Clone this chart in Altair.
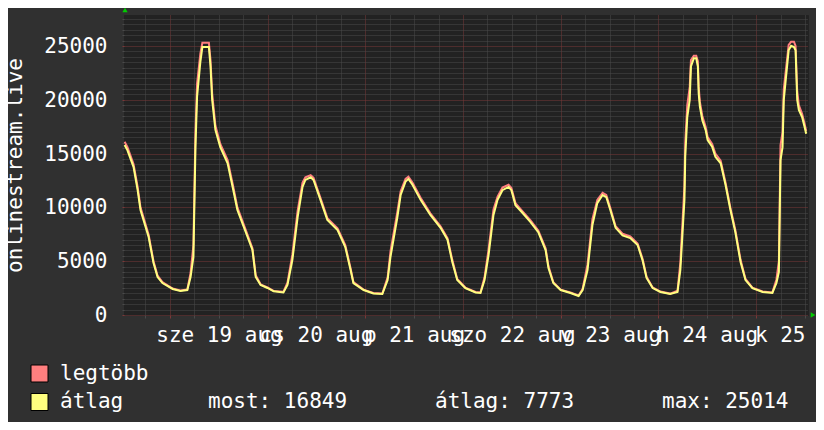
import json
import altair as alt
import pandas as pd

# ---------------- data ----------------
series_names = ["legtöbb", "átlag"]
series_colors = ["#ff7f7f", "#ffff7f"]

# hours since 18 aug 00:00
hours = [12.9, 13.6, 15.1, 16.1, 16.8, 18.8, 20.0, 21.0, 22.2, 24.7, 26.6, 28.3,
         29.1, 29.8, 30.3, 30.7, 31.5, 32.0, 33.6, 34.0, 34.4, 35.2, 36.4, 38.2,
         39.6, 40.6, 43.1, 44.3, 45.1, 46.3, 48.0, 49.5, 51.9, 52.9, 54.1, 55.4,
         56.6, 57.3, 58.6, 59.3, 61.0, 62.7, 65.2, 67.1, 68.4, 69.1, 71.6, 74.0,
         76.2, 77.5, 78.2, 79.9, 80.7, 81.9, 82.6, 83.6, 85.6, 88.0, 90.5, 92.2,
         93.4, 94.6, 96.6, 99.1, 100.3, 101.3, 102.3, 103.5, 104.5, 105.7, 107.2, 107.9,
         108.9, 110.6, 112.6, 114.5, 116.3, 117.0, 118.2, 120.0, 122.4, 124.4, 125.4, 126.6,
         127.8, 129.0, 130.3, 131.2, 132.2, 133.5, 135.2, 137.1, 138.9, 140.1, 141.1, 142.6,
         144.5, 146.9, 148.7, 149.4, 150.4, 150.6, 151.1, 151.7, 152.0, 152.7, 153.3, 153.7,
         153.9, 154.2, 154.8, 155.6, 156.1, 157.2, 158.0, 159.3, 160.5, 161.7, 162.9, 164.2,
         165.4, 167.1, 169.6, 172.0, 173.0, 173.6, 174.0, 174.5, 174.8, 176.0, 176.6, 177.3,
         177.7, 178.1, 178.5, 179.3, 179.9, 180.3]

avg_values = [15800, 15300, 13750, 11600, 9760, 7250, 4830, 3530, 2970, 2420, 2230, 2320,
              3530, 5390, 15600, 20300, 23500, 24900, 24900, 23100, 20000, 17200, 15600, 14100,
              11600, 9760, 7250, 6040, 3530, 2790, 2510, 2200, 2100, 2790, 5100, 9100,
              11900, 12550, 12800, 12550, 10700, 8830, 7900, 6320, 4180, 2970, 2320, 2000,
              1950, 3250, 5390, 9100, 11150, 12400, 12640, 12100, 10700, 9300, 8100, 7000,
              4900, 3250, 2500, 2100, 2050, 3250, 5580, 9300, 10700, 11600, 11900, 11600,
              10200, 9500, 8640, 7700, 6040, 4370, 2970, 2320, 2050, 1770, 2320, 4180,
              8360, 10400, 11150, 10960, 9760, 8100, 7400, 7150, 6500, 5100, 3440, 2500,
              2140, 1950, 2140, 4180, 10700, 14700, 18400, 20000, 23100, 23850, 23850, 23100,
              20600, 19350, 18100, 17200, 16260, 15640, 14700, 14100, 12080, 9760, 7700, 4900,
              3250, 2500, 2140, 2050, 2970, 4000, 14400, 15600, 20000, 24600, 25014, 24900,
              24600, 20000, 19050, 18400, 17500, 16849]

max_values = [16100, 15600, 14000, 11900, 10000, 7450, 5000, 3650, 3050, 2460, 2270, 2380,
              3900, 6500, 17000, 21500, 24300, 25300, 25300, 23700, 20600, 17600, 15900, 14400,
              11900, 10000, 7450, 6200, 3700, 2850, 2560, 2240, 2150, 3000, 5600, 9700,
              12300, 12800, 13000, 12750, 10900, 9000, 8050, 6500, 4350, 3050, 2360, 2040,
              2000, 3500, 5900, 9600, 11500, 12650, 12850, 12300, 10900, 9450, 8250, 7150,
              5100, 3350, 2550, 2140, 2090, 3500, 6100, 9800, 11000, 11850, 12100, 11800,
              10400, 9650, 8800, 7850, 6200, 4550, 3050, 2360, 2090, 1810, 2450, 4700,
              8900, 10700, 11350, 11150, 9950, 8250, 7550, 7300, 6650, 5250, 3550, 2560,
              2180, 1990, 2250, 4900, 12000, 16000, 19500, 21200, 23700, 24100, 24100, 23600,
              21200, 19800, 18500, 17500, 16550, 15900, 15000, 14350, 12300, 9950, 7900, 5100,
              3350, 2550, 2180, 2100, 3300, 5000, 15800, 17000, 21000, 25100, 25400, 25400,
              25000, 20800, 19500, 18700, 17800, 17100]

day_label_hours = [12, 36, 60, 84, 108, 132, 156, 180]
day_labels = ["k 18 aug", "sze 19 aug", "cs 20 aug", "p 21 aug", "szo 22 aug",
              "v 23 aug", "h 24 aug", "k 25 aug"]

stat_labels = ["most: 16849", "átlag: 7773", "max: 25014"]
y_title = "onlinestream.live"

x_domain = [12.75, 180.75]
y_domain = [0, 27880]

# ---------------- layout / styling ----------------
W, H = 684, 300
FONT = "DejaVu Sans Mono"
FS = 21
TXT = "#ffffff"
MINOR = "#4a4a4a"
MAJOR = "#7a3838"

# grid steps (6 h vertically, 500 horizontally), snapped to whole pixels so the
# dotted grid renders crisply like the rrdtool original
x_span = x_domain[1] - x_domain[0]
x_ticks = [x_domain[0] + round((h - x_domain[0]) * W / x_span) * x_span / W
           for h in range(18, 181, 6)]
y_ticks = [round(v * H / y_domain[1]) * y_domain[1] / H for v in range(0, 28000, 500)]

x_cond = {"condition": {"test": "round(datum.value) % 24 === 0", "value": MAJOR}, "value": MINOR}
y_cond = {"condition": {"test": "round(datum.value / 500) % 10 === 0", "value": MAJOR}, "value": MINOR}

label_expr = ("round(datum.value) % 24 === " + str(day_label_hours[0] % 24) + " ? "
              + json.dumps(day_labels, ensure_ascii=False)
              + "[(round(datum.value) - " + str(day_label_hours[0]) + ") / 24] : ''")


def make_x_axis():
    return alt.Axis(
        values=x_ticks,
        grid=True, gridColor=x_cond, gridDash=[1, 1], gridWidth=1,
        ticks=True, tickSize=3, tickColor=x_cond,
        domain=False,
        labelExpr=label_expr, labelOverlap=False, labelFlush=False,
        labelFont=FONT, labelFontSize=FS, labelColor=TXT, labelPadding=6,
        title="",
    )


def make_y_axis():
    return alt.Axis(
        values=y_ticks,
        grid=True, gridColor=y_cond, gridDash=[1, 1], gridWidth=1,
        ticks=True, tickSize=2, tickColor=y_cond,
        domain=False,
        labelExpr="round(datum.value / 500) % 10 === 0 ? format(round(datum.value / 500) * 500, 'd') : ''",
        labelOverlap=False, labelFlush=False,
        labelFont=FONT, labelFontSize=FS, labelColor=TXT, labelPadding=15,
        title=y_title, titleFont=FONT, titleFontSize=FS, titleFontWeight="normal",
        titleColor=TXT, titleAngle=270, titleX=-109, titleY=150,
        titleAlign="center", titleBaseline="middle",
    )


x_scale = alt.Scale(domain=x_domain, nice=False, zero=False)
y_scale = alt.Scale(domain=y_domain, nice=False)
color_scale = alt.Scale(domain=series_names, range=series_colors)

max_df = pd.DataFrame({"h": hours, "v": max_values, "s": series_names[0]})
avg_df = pd.DataFrame({"h": hours, "v": avg_values, "s": series_names[1]})

max_line = alt.Chart(max_df).mark_line(strokeWidth=2).encode(
    x=alt.X("h:Q", scale=x_scale, axis=make_x_axis()),
    y=alt.Y("v:Q", scale=y_scale, axis=make_y_axis()),
    color=alt.Color("s:N", scale=color_scale, legend=None),
)
avg_line = alt.Chart(avg_df).mark_line(strokeWidth=2).encode(
    x=alt.X("h:Q", scale=x_scale, axis=make_x_axis()),
    y=alt.Y("v:Q", scale=y_scale, axis=make_y_axis()),
    color=alt.Color("s:N", scale=color_scale, legend=None),
)

layers = [max_line, avg_line]

# legend squares and labels
for i, name in enumerate(series_names):
    yy = 358.5 + i * 28.5
    layers.append(
        alt.Chart(pd.DataFrame({"s": [name]})).mark_square(
            size=289, filled=True, stroke="#000000", strokeWidth=1, opacity=1
        ).encode(
            x=alt.value(-84.5), y=alt.value(yy),
            fill=alt.Fill("s:N", scale=color_scale, legend=None),
        )
    )
    layers.append(
        alt.Chart(pd.DataFrame({"t": [name]})).mark_text(
            align="left", baseline="middle", font=FONT, fontSize=FS, color=TXT
        ).encode(x=alt.value(-64), y=alt.value(yy), text="t:N")
    )

for lbl, xx in zip(stat_labels, [84, 311, 538]):
    layers.append(
        alt.Chart(pd.DataFrame({"t": [lbl]})).mark_text(
            align="left", baseline="middle", font=FONT, fontSize=FS, color=TXT
        ).encode(x=alt.value(xx), y=alt.value(387), text="t:N")
    )

# green axis arrows
layers.append(
    alt.Chart(pd.DataFrame({"a": [0]})).mark_point(
        shape="triangle-up", filled=True, size=28, color="#00cc00", opacity=1
    ).encode(x=alt.value(1), y=alt.value(-5))
)
layers.append(
    alt.Chart(pd.DataFrame({"a": [0]})).mark_point(
        shape="triangle-right", filled=True, size=28, color="#00cc00", opacity=1
    ).encode(x=alt.value(689), y=alt.value(300))
)

chart = alt.layer(*layers).properties(
    width=W,
    height=H,
    padding={"left": 116, "top": 7, "right": 8, "bottom": 107},
    autosize=alt.AutoSizeParams(type="none"),
    background="#303030",
).configure_view(fill="#222222", stroke="#222222").configure_axis(labelOverlap=False)

chart.save("out.html", embed_options={"renderer": "svg", "actions": False})
